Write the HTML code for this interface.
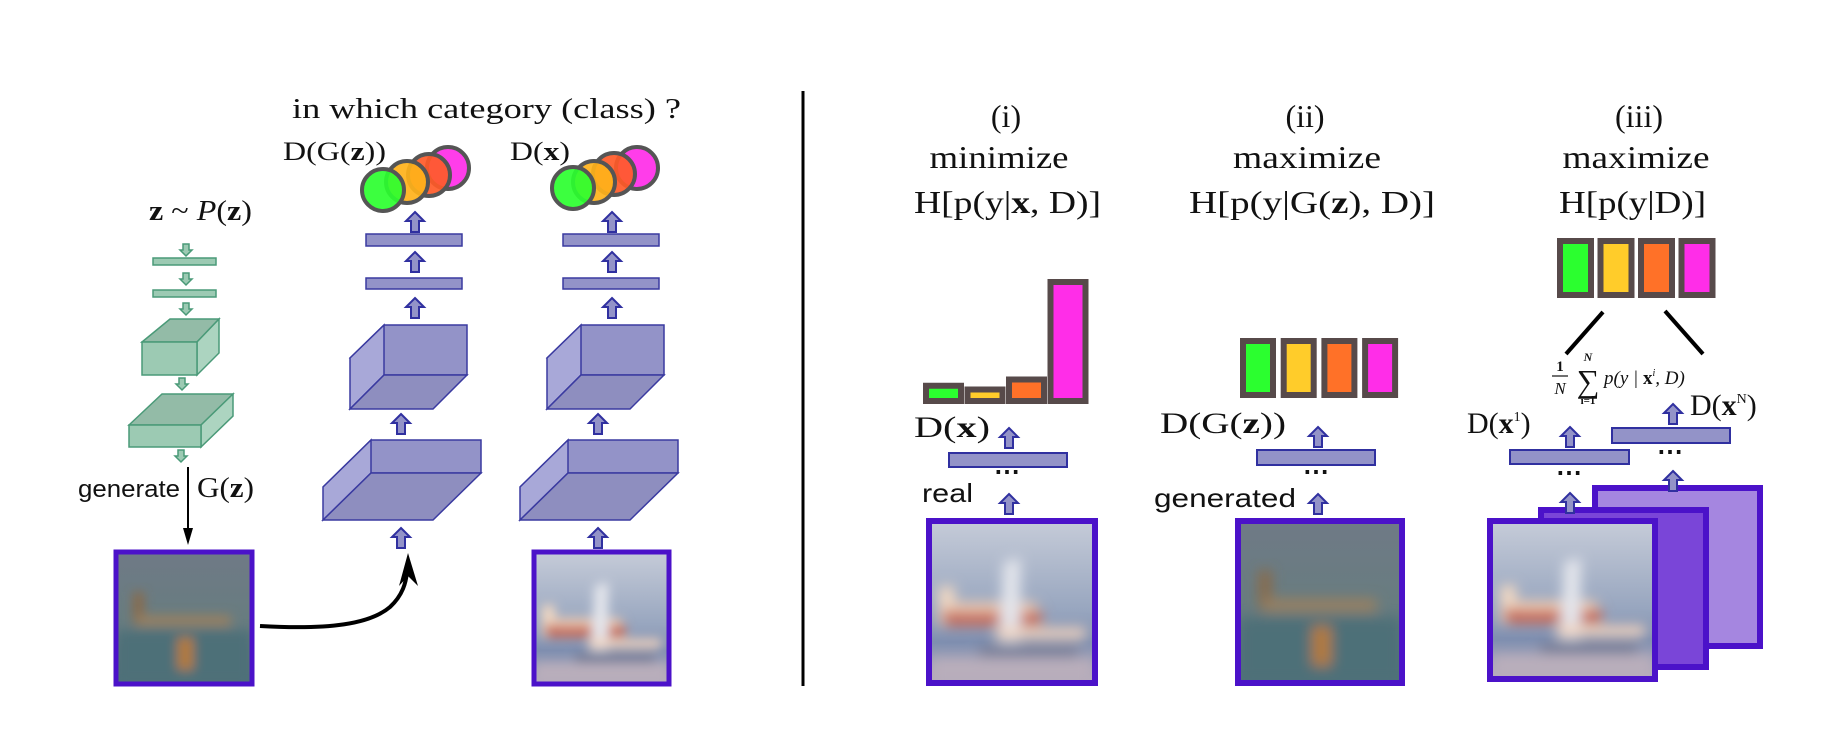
<!DOCTYPE html>
<html><head><meta charset="utf-8">
<style>
html,body{margin:0;padding:0;background:#fff;}
svg{display:block;}
.serif{font-family:"Liberation Serif",serif;fill:#111;}
.sans{font-family:"Liberation Sans",sans-serif;fill:#111;}
</style></head>
<body>
<svg id="fig" width="1834" height="746" viewBox="0 0 1834 746" xmlns="http://www.w3.org/2000/svg">
<defs>
  <filter id="blur" x="-10%" y="-10%" width="120%" height="120%"><feGaussianBlur stdDeviation="4"/></filter>
  <linearGradient id="sky" x1="0" y1="0" x2="0" y2="1">
    <stop offset="0" stop-color="#c5cbd8"/><stop offset="0.55" stop-color="#98a6bf"/><stop offset="0.75" stop-color="#7f8fb0"/><stop offset="1" stop-color="#b6acbb"/>
  </linearGradient>
  <linearGradient id="gen" x1="0" y1="0" x2="0" y2="1">
    <stop offset="0" stop-color="#6f7a86"/><stop offset="0.5" stop-color="#687c80"/><stop offset="1" stop-color="#4f707a"/>
  </linearGradient>
  <g id="realimg">
    <rect x="0" y="0" width="100" height="100" fill="url(#sky)"/>
    <g filter="url(#blur)">
      <rect x="5" y="40" width="10" height="25" fill="#f1d8c2"/>
      <rect x="8" y="55" width="60" height="10" fill="#c66a5a"/>
      <rect x="15" y="50" width="50" height="6" fill="#eecdb5"/>
      <polygon points="45,25 55,22 55,75 42,75" fill="#e4e6ec"/>
      <rect x="40" y="66" width="55" height="7" fill="#f0d2bd"/>
      <rect x="30" y="78" width="60" height="6" fill="#6f7791"/>
      <rect x="0" y="85" width="100" height="15" fill="#b9aebb"/>
    </g>
  </g>
  <g id="genimg">
    <rect x="0" y="0" width="100" height="100" fill="url(#gen)"/>
    <g filter="url(#blur)">
      <rect x="12" y="30" width="8" height="25" fill="#8a6a4a"/>
      <rect x="15" y="48" width="70" height="8" fill="#9a8060"/>
      <rect x="0" y="60" width="100" height="40" fill="#4e6f78"/>
      <rect x="45" y="65" width="12" height="25" fill="#b27a3c"/>
    </g>
  </g>
</defs>

<line x1="803" y1="91" x2="803" y2="686" stroke="#000" stroke-width="3"/>

<text class="serif" x="149" y="220" font-size="28" textLength="103" lengthAdjust="spacingAndGlyphs"><tspan font-weight="bold">z</tspan> ~ <tspan font-style="italic">P</tspan>(<tspan font-weight="bold">z</tspan>)</text>
<g id="genarrows"></g>
<rect x="153" y="258" width="63" height="7" fill="#9ccab3" stroke="#4a9a78" stroke-width="1.5"/>
<rect x="153" y="290" width="63" height="7" fill="#9ccab3" stroke="#4a9a78" stroke-width="1.5"/>
<g stroke="#4a9a78" stroke-width="1.5">
  <polygon points="142,342 170,319 219,319 197,342" fill="#93bba7"/>
  <polygon points="197,342 219,319 219,353 197,375" fill="#acd4c0"/>
  <rect x="142" y="342" width="55" height="33" fill="#9ccab3"/>
</g>
<g stroke="#4a9a78" stroke-width="1.5">
  <polygon points="129,425 162,394 233,394 201,425" fill="#93bba7"/>
  <polygon points="201,425 233,394 233,416 201,447" fill="#acd4c0"/>
  <rect x="129" y="425" width="72" height="22" fill="#9ccab3"/>
</g>
<text class="sans" x="78" y="497" font-size="24" textLength="102" lengthAdjust="spacingAndGlyphs">generate</text>
<line x1="188" y1="467" x2="188" y2="535" stroke="#000" stroke-width="2"/>
<polygon points="183,528 188,545 193,528" fill="#000"/>
<text class="serif" x="197" y="497" font-size="28" textLength="57" lengthAdjust="spacingAndGlyphs">G(<tspan font-weight="bold">z</tspan>)</text>

<g>
  <svg x="117" y="553" width="134" height="130" viewBox="0 0 100 100" preserveAspectRatio="none"><use href="#genimg"/></svg>
  <rect x="116" y="552" width="136" height="132" fill="none" stroke="#4b12c9" stroke-width="5"/>
</g>
<path d="M260,626 C330,630 370,624 390,607 C403,595 406,582 407,572" fill="none" stroke="#000" stroke-width="4"/>
<polygon points="408,553 418,586 408,576 399,586" fill="#000"/>

<text class="serif" x="292" y="118" font-size="28" textLength="389" lengthAdjust="spacingAndGlyphs">in which category (class) ?</text>
<text class="serif" x="283" y="160" font-size="26" textLength="103" lengthAdjust="spacingAndGlyphs">D(G(<tspan font-weight="bold">z</tspan>))</text>
<text class="serif" x="510" y="160" font-size="26" textLength="60" lengthAdjust="spacingAndGlyphs">D(<tspan font-weight="bold">x</tspan>)</text>

<g id="disc1"></g>
<g id="disc2"></g>

<g>
  <svg x="535" y="553" width="133" height="130" viewBox="0 0 100 100" preserveAspectRatio="none"><use href="#realimg"/></svg>
  <rect x="534" y="552" width="135" height="132" fill="none" stroke="#4b12c9" stroke-width="5"/>
</g>

<g>
<text class="serif" x="1006" y="127" font-size="32" text-anchor="middle">(i)</text>
<text class="serif" x="999" y="168" font-size="32" text-anchor="middle" textLength="139" lengthAdjust="spacingAndGlyphs">minimize</text>
<text class="serif" x="914" y="213" font-size="32" textLength="187" lengthAdjust="spacingAndGlyphs">H[p(y|<tspan font-weight="bold">x</tspan>, D)]</text>
</g>
<g>
<text class="serif" x="1305" y="127" font-size="32" text-anchor="middle">(ii)</text>
<text class="serif" x="1307" y="168" font-size="32" text-anchor="middle" textLength="148" lengthAdjust="spacingAndGlyphs">maximize</text>
<text class="serif" x="1189" y="213" font-size="32" textLength="246" lengthAdjust="spacingAndGlyphs">H[p(y|G(<tspan font-weight="bold">z</tspan>), D)]</text>
</g>
<g>
<text class="serif" x="1639" y="127" font-size="32" text-anchor="middle">(iii)</text>
<text class="serif" x="1636" y="168" font-size="32" text-anchor="middle" textLength="147" lengthAdjust="spacingAndGlyphs">maximize</text>
<text class="serif" x="1559" y="213" font-size="32" textLength="147" lengthAdjust="spacingAndGlyphs">H[p(y|D)]</text>
</g>

<g id="hist"></g>

<text class="serif" x="914" y="437" font-size="30" textLength="76" lengthAdjust="spacingAndGlyphs">D(<tspan font-weight="bold">x</tspan>)</text>
<rect x="949" y="453" width="118" height="14" fill="#9393c8" stroke="#3030a0" stroke-width="2"/>
<text class="serif" x="1007" y="480" font-size="26" text-anchor="middle" font-weight="bold">⋯</text>
<text class="sans" x="922" y="502" font-size="26" textLength="51" lengthAdjust="spacingAndGlyphs">real</text>
<g>
  <svg x="930" y="522" width="164" height="160" viewBox="0 0 100 100" preserveAspectRatio="none"><use href="#realimg"/></svg>
  <rect x="929" y="521" width="166" height="162" fill="none" stroke="#4b12c9" stroke-width="6"/>
</g>

<text class="serif" x="1160" y="433" font-size="30" textLength="126" lengthAdjust="spacingAndGlyphs">D(G(<tspan font-weight="bold">z</tspan>))</text>
<rect x="1257" y="450" width="118" height="15" fill="#9393c8" stroke="#3030a0" stroke-width="2"/>
<text class="serif" x="1316" y="480" font-size="26" text-anchor="middle" font-weight="bold">⋯</text>
<text class="sans" x="1154" y="507" font-size="26" textLength="142" lengthAdjust="spacingAndGlyphs">generated</text>
<g>
  <svg x="1239" y="522" width="162" height="160" viewBox="0 0 100 100" preserveAspectRatio="none"><use href="#genimg"/></svg>
  <rect x="1238" y="521" width="164" height="162" fill="none" stroke="#4b12c9" stroke-width="6"/>
</g>

<line x1="1603" y1="312" x2="1566" y2="354" stroke="#000" stroke-width="4"/>
<line x1="1665" y1="311" x2="1703" y2="354" stroke="#000" stroke-width="4"/>
<g font-family="Liberation Serif, serif" fill="#111">
  <text x="1560" y="371" font-size="15" text-anchor="middle" font-weight="bold">1</text>
  <line x1="1552" y1="376" x2="1568" y2="376" stroke="#111" stroke-width="1.2"/>
  <text x="1560" y="394" font-size="17" text-anchor="middle" font-style="italic">N</text>
  <text x="1588" y="361" font-size="12" text-anchor="middle" font-style="italic" font-weight="bold">N</text>
  <text x="1588" y="392" font-size="32" text-anchor="middle">∑</text>
  <text x="1588" y="404" font-size="11" text-anchor="middle" font-weight="bold">i=1</text>
  <text x="1604" y="384" font-size="19" font-style="italic">p(y | <tspan font-weight="bold" font-style="normal">x</tspan><tspan font-size="10" dy="-8">i</tspan><tspan dy="8">, D)</tspan></text>
</g>
<text class="serif" x="1467" y="433" font-size="30">D(<tspan font-weight="bold">x</tspan><tspan font-size="14" dy="-12">1</tspan><tspan dy="12">)</tspan></text>
<text class="serif" x="1690" y="415" font-size="30">D(<tspan font-weight="bold">x</tspan><tspan font-size="14" dy="-12">N</tspan><tspan dy="12">)</tspan></text>
<rect x="1612" y="428" width="118" height="15" fill="#9393c8" stroke="#3030a0" stroke-width="2"/>
<rect x="1510" y="450" width="119" height="14" fill="#9393c8" stroke="#3030a0" stroke-width="2"/>
<text class="serif" x="1670" y="460" font-size="26" text-anchor="middle" font-weight="bold">⋯</text>
<text class="serif" x="1569" y="481" font-size="26" text-anchor="middle" font-weight="bold">⋯</text>
<rect x="1595" y="488" width="165" height="158" fill="#a586e0" stroke="#4b12c9" stroke-width="6"/>
<rect x="1541" y="510" width="165" height="157" fill="#7a45d8" stroke="#4b12c9" stroke-width="6"/>
<g>
  <svg x="1492" y="523" width="161" height="155" viewBox="0 0 100 100" preserveAspectRatio="none"><use href="#realimg"/></svg>
  <rect x="1490" y="521" width="165" height="158" fill="none" stroke="#4b12c9" stroke-width="6"/>
</g>
<g id="rightarrows"></g>
</svg>

<script>
const classes = ['class-1', 'class-2', 'class-3', 'class-4'];
const probsReal = [0.17, 0.14, 0.22, 1.0];
const probsGenerated = [1.0, 1.0, 1.0, 1.0];
const probsMarginal = [1.0, 1.0, 1.0, 1.0];
const barColors = ['#2bff2f', '#ffcc2a', '#ff7128', '#ff2de8'];

const NS = 'http://www.w3.org/2000/svg';
function mk(tag, attrs, parent) {
  const el = document.createElementNS(NS, tag);
  for (const k in attrs) el.setAttribute(k, attrs[k]);
  parent.appendChild(el);
  return el;
}
function panelScale(base, full) { return v => base - v * full; }

const hist = document.getElementById('hist');
function drawHist(values, x0, step, w, base, full, label) {
  const y = panelScale(base, full);
  values.forEach((v, i) => {
    const top = y(v);
    const r = mk('rect', {x: x0 + i * step + 3, y: top + 3, width: w - 6, height: Math.max(base - top - 6, 1),
      fill: barColors[i], stroke: '#574a4a', 'stroke-width': 6}, hist);
    
    
  });
}
drawHist(probsReal, 923, 41.5, 41, 404, 125, 'i');
drawHist(probsGenerated, 1240, 40.7, 36, 398, 60, 'ii');
drawHist(probsMarginal, 1557, 40.5, 37, 298, 60, 'iii');

function upArrow(parent, cx, top, name) {
  const h = 20, w = 9;
  const p = mk('polygon', {points: [
    [cx, top], [cx + w, top + 9], [cx + 4, top + 9], [cx + 4, top + h], [cx - 4, top + h], [cx - 4, top + 9], [cx - w, top + 9]
  ].map(a => a.join(',')).join(' '), fill: '#9393c8', stroke: '#3030a0', 'stroke-width': 2}, parent);
  
  
}
function downArrow(parent, cx, top, name) {
  const p = mk('polygon', {points: [
    [cx - 3, top], [cx + 3, top], [cx + 3, top + 6], [cx + 6, top + 6], [cx, top + 12], [cx - 6, top + 6], [cx - 3, top + 6]
  ].map(a => a.join(',')).join(' '), fill: '#9ccab3', stroke: '#4a9a78', 'stroke-width': 1.5}, parent);
  
  
}
const ga = document.getElementById('genarrows');
[[186, 244], [186, 273], [186, 303], [182, 378], [181, 450]].forEach((a, i) => downArrow(ga, a[0], a[1], 'generator-arrow-' + (i + 1)));

function circles(parent, pts) {
  const cols = ['#ff2de8', '#ff5a28', '#ffb21a', '#2bff2f'];
  pts.slice().reverse().forEach((p, i) => {
    const c = mk('circle', {cx: p[0], cy: p[1], r: 21, fill: cols[i], 'fill-opacity': 0.92, stroke: '#555', 'stroke-width': 4}, parent);
    
    
  });
}
function discColumn(id, dx, circ) {
  const g = document.getElementById(id);
  const st = {stroke: '#3a3aa0', 'stroke-width': 1.5};
  const cube = (pts, fill) => mk('polygon', Object.assign({points: pts.map(p => (p[0] + dx) + ',' + p[1]).join(' '), fill}, st), g);
  cube([[323,487],[371,440],[481,440],[481,473],[371,473]], '#9393c8');
  cube([[323,487],[371,440],[371,473],[323,520]], '#a8a8d8');
  cube([[323,520],[371,473],[481,473],[433,520]], '#8e8ebf');
  cube([[350,358],[384,325],[467,325],[467,375],[384,375]], '#9393c8');
  cube([[350,358],[384,325],[384,375],[350,409]], '#a8a8d8');
  cube([[350,409],[384,375],[467,375],[433,409]], '#8e8ebf');
  mk('rect', Object.assign({x: 366 + dx, y: 234, width: 96, height: 12, fill: '#9393c8'}, st), g);
  mk('rect', Object.assign({x: 366 + dx, y: 278, width: 96, height: 11, fill: '#9393c8'}, st), g);
  upArrow(g, 415 + dx, 212, 'arrow-to-output');
  upArrow(g, 415 + dx, 252, 'arrow-to-fc2');
  upArrow(g, 415 + dx, 298, 'arrow-to-fc1');
  upArrow(g, 401 + dx, 414, 'arrow-to-conv2');
  upArrow(g, 401 + dx, 528, 'arrow-to-conv1');
  circles(g, circ);
}
discColumn('disc1', 0, [[383,190],[407,182],[429,175],[448,168]]);
discColumn('disc2', 197, [[573,188],[594,182],[614,174],[637,168]]);

const ra = document.getElementById('rightarrows');
upArrow(ra, 1009, 428, 'arrow-i-top');
upArrow(ra, 1009, 494, 'arrow-i-bottom');
upArrow(ra, 1318, 427, 'arrow-ii-top');
upArrow(ra, 1318, 494, 'arrow-ii-bottom');
upArrow(ra, 1570, 427, 'arrow-iii-1-top');
upArrow(ra, 1570, 493, 'arrow-iii-1-bottom');
upArrow(ra, 1673, 404, 'arrow-iii-n-top');
upArrow(ra, 1673, 471, 'arrow-iii-n-bottom');
</script>
</body></html>
